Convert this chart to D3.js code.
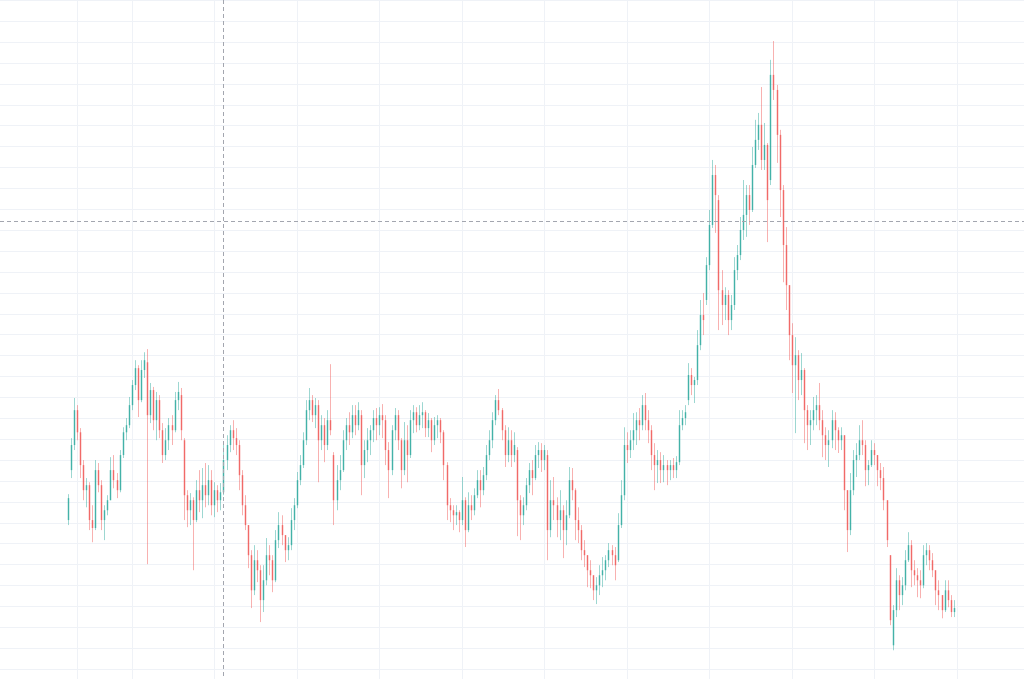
<!DOCTYPE html>
<html><head><meta charset="utf-8">
<script src="https://cdn.jsdelivr.net/npm/d3@7"></script>
<style>html,body{margin:0;padding:0;background:#fff;overflow:hidden}</style>
</head><body><svg id="c" width="1024" height="679"></svg>
<script>
const open = [
17.14,19.53,20.73,22.40,21.34,19.77,18.57,18.81,17.14,16.76,
19.53,18.81,17.14,17.61,18.09,19.53,19.05,18.57,20.25,21.34,
21.68,22.64,23.60,24.41,22.88,24.32,24.69,22.16,23.36,21.92,
22.88,21.44,20.25,20.96,21.68,21.44,22.88,23.12,20.96,18.33,
17.61,18.09,17.14,18.57,18.09,18.81,18.33,19.05,17.85,18.57,
18.09,18.47,20.01,20.73,21.44,21.06,20.73,19.29,17.85,16.90,
15.46,13.78,15.22,14.74,13.31,14.26,15.46,15.22,14.26,16.18,
16.90,16.42,15.70,15.94,17.14,17.85,19.05,19.77,20.96,22.40,
22.88,22.16,22.64,20.96,21.68,20.73,21.92,20.25,18.09,19.05,
19.53,20.96,21.68,21.34,22.16,21.68,22.16,19.77,20.49,20.96,
21.44,22.02,21.68,22.16,21.92,20.49,19.53,21.44,22.16,20.96,
19.53,20.96,20.25,21.92,22.30,21.68,22.16,22.30,21.54,21.92,
20.96,21.68,21.92,21.34,19.77,17.85,17.61,17.37,17.52,17.14,
18.09,16.66,17.85,17.61,18.33,19.05,18.57,19.29,20.25,20.96,
21.92,22.88,22.40,21.44,20.25,20.96,20.25,20.49,18.09,17.37,
17.85,18.81,19.53,19.15,20.25,20.49,20.01,20.25,16.66,18.09,
17.85,17.14,17.61,16.66,17.37,19.05,18.57,17.14,16.66,15.70,
15.46,14.74,14.50,13.78,14.02,14.50,14.74,15.22,15.70,15.46,
15.22,16.90,18.33,20.73,20.49,20.96,21.44,21.92,21.68,22.64,
21.92,21.44,20.25,19.77,20.01,19.53,19.77,19.53,19.77,19.53,
19.91,21.68,22.02,22.88,24.08,23.60,23.84,25.51,26.95,27.67,
29.34,31.26,33.65,32.45,28.14,27.43,27.91,26.71,27.43,29.10,
29.82,31.02,31.74,32.69,31.98,34.13,35.33,36.05,34.37,35.09,
33.41,38.44,37.72,35.57,32.93,30.30,28.38,25.99,24.55,25.03,
23.84,24.32,22.40,21.68,21.92,22.40,22.64,21.92,21.20,20.73,
20.96,21.92,21.44,20.96,21.20,18.57,16.66,18.57,20.01,20.25,
20.96,20.73,19.53,19.77,20.49,20.25,19.53,19.15,18.09,15.46,
11.15,12.83,14.26,13.55,14.02,15.22,15.94,14.74,14.50,14.26,
14.02,15.46,15.70,15.22,14.74,13.78,13.55,12.83,13.78,13.31,12.74];
const high = [
18.38,21.06,22.98,22.64,21.54,20.01,19.15,18.95,17.85,20.01,
19.87,19.05,17.85,18.33,20.15,20.25,19.39,20.49,21.58,22.02,
23.03,23.84,24.79,24.55,24.79,25.17,25.32,23.70,23.51,23.27,
23.12,21.78,21.54,22.02,22.16,23.27,23.75,23.46,21.06,18.57,
18.43,18.23,19.05,19.53,19.63,19.87,19.77,19.53,18.95,18.81,
18.91,20.73,21.20,21.68,21.92,21.54,20.96,19.53,18.33,16.90,
15.70,15.94,15.70,14.98,14.98,16.28,15.94,15.46,16.66,17.52,
17.37,16.42,16.32,17.71,18.19,19.44,20.25,21.34,22.88,23.46,
23.12,22.98,22.88,22.16,22.02,22.40,24.60,20.39,19.77,20.25,
21.44,22.02,22.30,22.64,22.64,22.78,22.40,20.96,21.54,21.68,
22.40,22.50,22.54,22.69,22.16,20.87,21.68,22.50,22.40,21.06,
21.83,21.68,22.40,22.64,22.54,22.64,22.78,22.40,22.26,22.02,
22.07,22.16,22.02,21.44,19.91,18.19,17.85,17.85,17.61,19.20,
18.23,18.47,18.33,18.66,19.53,19.53,19.68,20.73,21.44,22.30,
23.12,23.41,22.50,21.68,21.58,21.44,21.34,20.63,18.33,18.23,
19.15,19.87,20.01,20.73,20.87,20.82,20.73,20.49,19.05,19.20,
18.23,18.57,17.85,18.09,19.68,19.63,18.66,17.75,16.90,16.18,
15.46,15.22,14.50,14.41,14.98,15.37,15.46,16.04,15.94,15.85,
17.47,19.05,21.58,21.34,21.44,22.26,22.30,22.50,23.12,23.22,
22.40,21.68,20.82,20.49,20.39,20.25,20.01,20.01,20.11,20.20,
22.40,22.40,22.64,24.65,24.41,23.99,26.23,27.67,28.00,29.72,
31.98,34.37,34.13,32.69,29.10,28.28,28.14,27.91,29.72,30.30,
31.64,33.41,33.17,33.17,34.99,36.29,36.62,37.86,36.14,35.18,
39.16,40.06,37.96,35.81,33.17,31.16,28.38,26.56,25.89,25.27,
25.13,24.41,22.64,22.40,23.03,23.12,23.70,22.40,21.58,21.44,
22.40,22.30,21.58,21.58,21.20,18.57,19.39,20.49,20.82,21.68,
21.92,20.96,20.01,20.96,20.82,20.25,19.87,19.68,18.09,15.46,
13.07,14.84,14.50,14.41,15.70,16.56,16.18,15.22,14.84,14.74,
15.94,16.04,15.94,15.56,14.74,14.26,13.55,14.26,14.26,13.55,13.31];
const low = [
16.90,19.15,20.49,20.96,19.15,18.09,17.75,16.66,16.08,16.66,
18.47,16.66,16.18,17.37,18.09,18.66,18.19,18.47,20.11,20.96,
21.54,22.40,23.36,22.07,22.78,23.94,15.03,21.78,21.44,20.96,
21.06,19.87,20.01,20.49,20.73,21.34,22.40,20.96,17.14,16.80,
16.90,14.74,17.04,17.52,17.23,17.75,17.85,17.37,17.28,17.52,
17.61,18.33,19.53,20.39,20.49,20.25,18.57,17.37,16.66,14.84,
12.93,13.55,14.17,12.26,12.74,14.02,14.50,13.69,14.17,15.80,
15.94,15.13,15.22,15.70,16.66,17.71,18.81,19.63,20.73,21.92,
21.83,21.54,18.95,20.49,19.91,20.49,21.20,16.90,17.61,18.57,
19.44,20.49,20.73,21.06,21.20,21.44,18.33,19.15,19.91,20.25,
20.87,20.96,21.20,21.06,19.77,18.19,19.29,20.96,20.49,18.66,
19.29,18.95,20.11,21.30,21.34,21.44,21.54,21.11,21.11,20.39,
20.73,21.06,20.82,19.05,17.14,17.04,16.66,16.90,16.56,16.90,
15.85,16.56,17.14,17.37,18.19,17.75,18.33,19.05,20.01,20.58,
21.68,22.16,20.96,19.68,19.91,19.68,19.91,16.37,16.18,16.90,
17.61,18.43,18.33,19.05,19.63,19.44,19.53,15.22,16.32,17.14,
16.32,16.18,15.32,15.94,17.23,18.09,16.18,16.04,15.22,14.89,
13.93,13.88,13.31,13.12,13.55,13.93,14.26,14.89,14.98,14.26,
15.13,16.76,18.09,19.87,20.11,20.49,20.73,20.96,21.44,21.44,
20.82,19.53,18.57,18.91,18.91,18.95,18.81,19.05,19.15,19.15,
19.77,21.44,21.68,22.64,23.12,22.74,23.60,25.27,25.99,27.43,
29.10,31.12,30.88,26.23,26.47,26.71,25.99,26.23,27.19,28.62,
29.58,30.54,30.69,31.26,31.88,33.99,34.85,33.89,33.89,30.44,
33.17,37.24,34.23,31.64,28.52,27.19,24.79,23.22,21.30,22.88,
23.12,20.82,20.49,20.73,21.44,21.68,21.44,20.15,20.01,19.68,
20.58,20.49,20.35,20.49,17.61,15.61,16.42,18.33,19.20,20.01,
20.25,18.76,18.81,19.68,19.77,18.76,18.57,17.61,15.85,12.11,
10.91,12.50,12.83,13.07,13.78,15.13,13.93,14.02,13.45,13.40,
13.88,14.98,14.74,14.41,13.07,12.83,12.44,12.74,12.97,12.50,12.50];
const close = [
18.19,20.73,22.40,21.34,19.77,18.57,18.81,17.14,16.76,19.53,
18.81,17.14,17.61,18.09,19.53,19.05,18.57,20.25,21.34,21.68,
22.64,23.60,24.41,22.88,24.32,24.79,22.16,23.36,21.92,22.88,
21.44,20.25,20.96,21.68,21.44,22.88,23.27,21.44,18.33,17.61,
18.09,17.14,18.57,18.09,18.81,18.33,19.05,17.85,18.57,18.09,
18.47,20.01,20.73,21.44,21.06,20.73,19.29,17.85,16.90,15.46,
13.78,15.22,14.74,13.31,14.26,15.46,15.22,14.26,16.18,16.90,
16.42,15.70,15.94,17.14,17.85,19.05,19.77,20.96,22.40,22.88,
22.16,22.64,20.96,21.68,20.73,21.92,21.44,18.09,19.05,19.53,
20.96,21.68,21.34,22.16,21.68,22.40,19.77,20.49,20.96,21.44,
22.02,21.68,22.16,21.92,20.49,19.53,21.44,22.16,20.96,19.53,
20.96,20.25,21.92,22.30,21.68,22.16,22.30,21.54,21.92,20.96,
21.68,21.92,21.34,19.77,17.85,17.61,17.37,17.52,17.14,18.09,
16.66,17.85,17.61,18.33,19.05,18.57,19.29,20.25,20.96,21.92,
22.88,22.40,21.44,20.25,20.96,20.25,20.73,18.09,17.37,17.85,
18.81,19.53,19.15,20.25,20.49,20.01,20.49,16.66,18.09,17.85,
17.14,17.61,16.66,17.37,19.05,18.57,17.14,16.66,15.70,15.46,
14.74,14.50,13.78,14.02,14.50,14.74,15.22,15.70,15.46,14.98,
16.90,18.33,20.73,20.49,20.96,21.44,21.92,21.68,22.64,21.92,
21.44,20.25,19.77,20.01,19.53,19.77,19.53,19.77,19.53,19.91,
21.68,22.02,22.30,24.08,23.60,23.84,25.51,26.95,26.71,29.34,
31.26,33.65,32.69,28.14,27.43,27.91,26.71,27.43,29.10,29.82,
31.02,31.74,32.69,31.98,34.13,35.33,36.05,34.37,35.09,32.45,
38.44,37.72,35.57,32.93,30.30,28.38,25.99,24.55,25.03,23.84,
24.32,22.40,21.68,21.92,22.40,22.64,21.92,21.20,20.73,20.96,
21.92,21.44,20.96,21.20,18.57,16.66,18.57,20.01,20.25,20.96,
20.73,19.53,19.77,20.49,20.25,19.53,19.15,18.09,16.18,12.35,
12.83,14.26,13.55,14.02,15.22,15.94,14.74,14.50,14.26,14.02,
15.46,15.70,15.22,14.74,13.78,13.55,12.83,13.78,13.31,12.74,12.93];

const priceTicks = d3.range(10, 43, 1);
const timeTicks = [3, 21, 48, 75, 102, 129, 156, 183, 210, 237, 264, 291];
const crossIndex = 51;
const crossPrice = 31.44;

const W = 1024, H = 679;
const x = d3.scaleLinear().domain([0, 291]).range([68.13, 957.3]);
const y = d3.scaleLinear().domain([10, 42]).range([669.3, 0.5]);
const crisp = v => Math.floor(v) + 0.5;

const svg = d3.select('#c');
svg.append('rect').attr('width', W).attr('height', H).attr('fill', '#ffffff');

const grid = svg.append('g').attr('stroke', '#eff2f7').attr('stroke-width', 1);
grid.selectAll('.h').data(priceTicks).join('line')
  .attr('x1', 0).attr('x2', W)
  .attr('y1', d => crisp(y(d))).attr('y2', d => crisp(y(d)));
grid.selectAll('.v').data(timeTicks).join('line')
  .attr('y1', 0).attr('y2', H)
  .attr('x1', d => crisp(x(d))).attr('x2', d => crisp(x(d)));

const data = close.map((c, i) => ({i, o: open[i], h: high[i], l: low[i], c}));
const UP = '#26a69a', DOWN = '#ef5350';
const g = svg.append('g');
const cs = g.selectAll('g').data(data).join('g');
cs.append('line')
  .attr('x1', d => crisp(x(d.i))).attr('x2', d => crisp(x(d.i)))
  .attr('y1', d => y(d.h)).attr('y2', d => y(d.l))
  .attr('stroke', d => d.c >= d.o ? UP : DOWN)
  .attr('stroke-opacity', 0.45).attr('stroke-width', 1);
cs.append('rect')
  .attr('x', d => crisp(x(d.i)) - 0.75)
  .attr('width', 1.5)
  .attr('y', d => y(Math.max(d.o, d.c)))
  .attr('height', d => Math.max(1, Math.abs(y(d.o) - y(d.c))))
  .attr('fill', d => d.c >= d.o ? UP : DOWN)
  .attr('fill-opacity', 0.75);

const ch = svg.append('g').attr('stroke', '#a3a6af').attr('stroke-width', 1)
  .attr('stroke-dasharray', '4,3');
ch.append('line').attr('x1', crisp(x(crossIndex))).attr('x2', crisp(x(crossIndex)))
  .attr('y1', 0).attr('y2', H);
ch.append('line').attr('x1', 0).attr('x2', W)
  .attr('y1', crisp(y(crossPrice))).attr('y2', crisp(y(crossPrice)));
</script></body></html>
